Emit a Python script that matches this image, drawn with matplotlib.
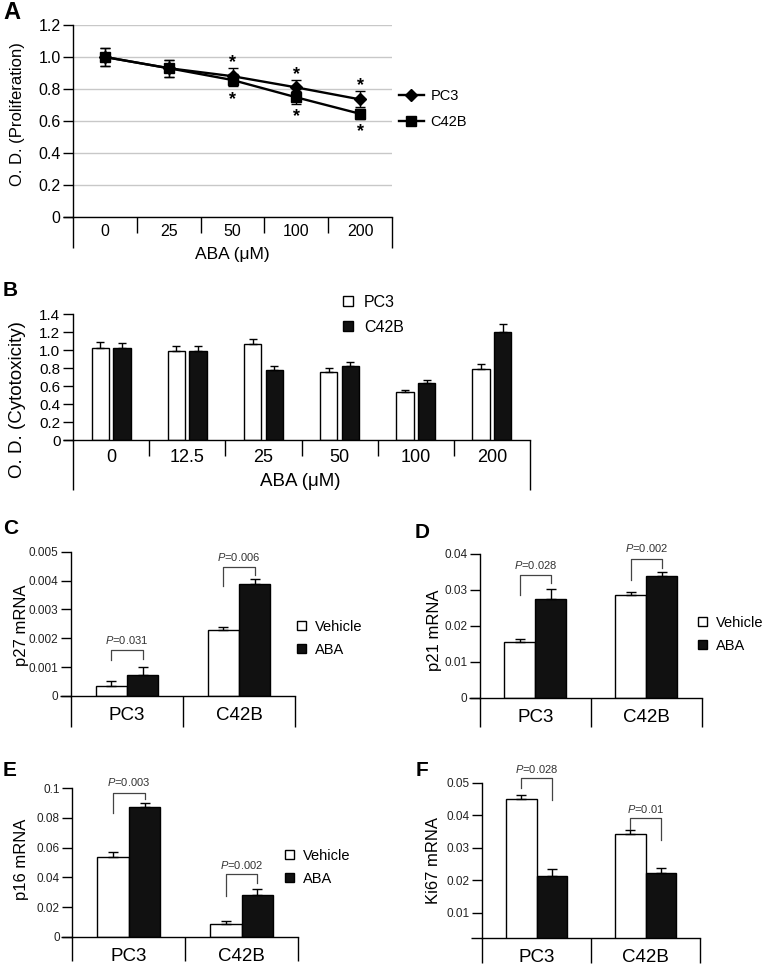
import matplotlib
matplotlib.use('Agg')
import matplotlib.pyplot as plt
from matplotlib.patches import Patch
from matplotlib.lines import Line2D
import numpy as np

plt.rcParams['font.family'] = ['Liberation Sans', 'DejaVu Sans']
plt.rcParams['mathtext.fontset'] = 'custom'
plt.rcParams['mathtext.rm'] = 'Liberation Sans'
plt.rcParams['mathtext.it'] = 'Liberation Sans:italic'

# ---------------- data ----------------
a_doses = ['0', '25', '50', '100', '200']
a_pc3 = [1.00, 0.93, 0.88, 0.81, 0.735]
a_pc3_err = [0.055, 0.054, 0.05, 0.048, 0.05]
a_c42b = [1.00, 0.93, 0.856, 0.748, 0.645]
a_c42b_err = [0.055, 0.054, 0.04, 0.04, 0.032]
a_star_idx = [2, 3, 4]

b_doses = ['0', '12.5', '25', '50', '100', '200']
b_pc3 = [1.02, 0.99, 1.065, 0.76, 0.53, 0.795]
b_pc3_err = [0.065, 0.06, 0.06, 0.044, 0.033, 0.055]
b_c42b = [1.02, 0.99, 0.78, 0.825, 0.637, 1.20]
b_c42b_err = [0.06, 0.06, 0.045, 0.044, 0.033, 0.09]

cells = ['PC3', 'C42B']

c_vehicle = [0.00034, 0.00228]
c_vehicle_err = [0.00019, 0.00012]
c_aba = [0.00074, 0.00387]
c_aba_err = [0.00025, 0.0002]
c_p = ['0.031', '0.006']
c_brackets = [(0.00159, 0.00125, 0.00128, 0.00193), (0.00446, 0.00382, 0.0042, 0.0048)]

d_vehicle = [0.0154, 0.0285]
d_vehicle_err = [0.0009, 0.0009]
d_aba = [0.0275, 0.0339]
d_aba_err = [0.0027, 0.001]
d_p = ['0.028', '0.002']
d_brackets = [(0.0341, 0.0285, 0.032, 0.0369), (0.0387, 0.0329, 0.0362, 0.0418)]

e_vehicle = [0.054, 0.0084]
e_vehicle_err = [0.0028, 0.0024]
e_aba = [0.0877, 0.0283]
e_aba_err = [0.0023, 0.0036]
e_p = ['0.003', '0.002']
e_brackets = [(0.097, 0.0836, 0.0926, 0.104), (0.0423, 0.0274, 0.036, 0.0483)]

f_vehicle = [0.045, 0.0341]
f_vehicle_err = [0.0012, 0.0014]
f_aba = [0.0213, 0.0222]
f_aba_err = [0.0022, 0.0014]
f_p = ['0.028', '0.01']
f_brackets = [(0.0515, 0.0483, 0.0447, 0.0542), (0.0392, 0.0356, 0.0323, 0.0419)]

# ---------------- figure ----------------
W, H = 762, 967
fig = plt.figure(figsize=(W / 100, H / 100), dpi=100)
DARK = '#111111'


def box(x0, y0, x1, y1):
    return [x0 / W, 1 - y1 / H, (x1 - x0) / W, (y1 - y0) / H]


def fx(px):
    return px / W


def fy(py):
    return 1 - py / H


def frame(ax, n, bottom_px, sep_px, left_ext_px=10):
    bb = ax.get_position()
    hpx = bb.height * H
    wpx = bb.width * W
    d = bottom_px / hpx
    s = sep_px / hpx
    kw = dict(transform=ax.transAxes, clip_on=False, color='black', lw=1.0,
              solid_capstyle='butt')
    ax.plot([0, 0], [0, -d], **kw)
    ax.plot([1, 1], [0, -d], **kw)
    ax.plot([-left_ext_px / wpx, 0], [0, 0], **kw)
    for i in range(1, n):
        ax.plot([i / n, i / n], [0, -s], **kw)


def style(ax):
    for sp in ['top', 'right']:
        ax.spines[sp].set_visible(False)
    for sp in ['left', 'bottom']:
        ax.spines[sp].set_linewidth(1.0)


# ---------------- Panel A ----------------
axA = fig.add_axes(box(73, 25, 392, 217))
style(axA)
xa = np.arange(len(a_doses))
axA.yaxis.grid(True, color='#c8c8c8', lw=1)
axA.set_axisbelow(True)
axA.errorbar(xa, a_pc3, yerr=a_pc3_err, color='black', marker='D', ms=6.5, lw=1.7,
             capsize=3.5, elinewidth=1, capthick=1, label='PC3', zorder=3)
axA.errorbar(xa, a_c42b, yerr=a_c42b_err, color='black', marker='s', ms=6.5, lw=1.7,
             capsize=3.5, elinewidth=1, capthick=1, label='C42B', zorder=3)
for i in a_star_idx:
    axA.text(i, a_pc3[i] + a_pc3_err[i] + 0.035, '*', ha='center', va='center',
             fontsize=13, fontweight='bold')
    axA.text(i, a_c42b[i] - a_c42b_err[i] - 0.08, '*', ha='center', va='center',
             fontsize=13, fontweight='bold')
axA.set_xlim(-0.5, len(a_doses) - 0.5)
axA.set_ylim(0, 1.2)
axA.set_yticks(np.arange(0, 1.21, 0.2))
axA.set_yticklabels(['0', '0.2', '0.4', '0.6', '0.8', '1.0', '1.2'])
axA.set_xticks(xa)
axA.set_xticklabels(a_doses)
axA.tick_params(axis='y', length=7, width=1, pad=2, labelsize=11.5)
axA.tick_params(axis='x', length=0, pad=5, labelsize=11.5)
axA.set_xlabel('ABA (μM)', fontsize=12.5)
axA.xaxis.set_label_coords(fx(232), fy(255), transform=fig.transFigure)
axA.xaxis.label.set_va('center')
axA.set_ylabel('O. D. (Proliferation)', fontsize=12, va='center')
axA.yaxis.set_label_coords(fx(18), fy(114), transform=fig.transFigure)
frame(axA, len(a_doses), 31, 16)
hA = [Line2D([], [], color='black', marker='D', ms=6.5, lw=1.7),
      Line2D([], [], color='black', marker='s', ms=6.5, lw=1.7)]
axA.legend(hA, ['PC3', 'C42B'], loc='upper left', bbox_to_anchor=(fx(399), fy(89)),
           bbox_transform=fig.transFigure, frameon=False, fontsize=10.5,
           handlelength=1.7, handletextpad=0.45, labelspacing=0.85,
           borderpad=0, borderaxespad=0)
fig.text(fx(3), fy(1), 'A', fontsize=17, fontweight='bold', ha='left', va='top')

# ---------------- Panel B ----------------
axB = fig.add_axes(box(73, 314, 530, 440.3))
style(axB)
xb = np.arange(len(b_doses))
bw = 0.228
off = 0.142
ekw = dict(ecolor='black', elinewidth=1, capsize=3.2, capthick=1)
axB.bar(xb - off, b_pc3, bw, color='white', edgecolor='black', lw=1.0,
        yerr=[np.zeros(len(b_pc3)), b_pc3_err], error_kw=ekw, label='PC3')
axB.bar(xb + off, b_c42b, bw, color=DARK, edgecolor='black', lw=1.0,
        yerr=[np.zeros(len(b_c42b)), b_c42b_err], error_kw=ekw, label='C42B')
axB.set_xlim(-0.5, len(b_doses) - 0.5)
axB.set_ylim(0, 1.4)
axB.set_yticks(np.arange(0, 1.41, 0.2))
axB.set_yticklabels(['0', '0.2', '0.4', '0.6', '0.8', '1.0', '1.2', '1.4'])
axB.set_xticks(xb)
axB.set_xticklabels(b_doses)
axB.tick_params(axis='y', length=7, width=1, pad=2, labelsize=11)
axB.tick_params(axis='x', length=0, pad=6, labelsize=13)
axB.set_xlabel('ABA (μM)', fontsize=13.5)
axB.xaxis.set_label_coords(fx(300), fy(482), transform=fig.transFigure)
axB.xaxis.label.set_va('center')
axB.set_ylabel('O. D. (Cytotoxicity)', fontsize=13.5, va='center')
axB.yaxis.set_label_coords(fx(18), fy(400), transform=fig.transFigure)
frame(axB, len(b_doses), 50, 16)
hB = [Patch(facecolor='white', edgecolor='black', lw=1.0),
      Patch(facecolor=DARK, edgecolor='black', lw=1.0)]
axB.legend(hB, ['PC3', 'C42B'], loc='upper left', bbox_to_anchor=(fx(343), fy(295)),
           bbox_transform=fig.transFigure, frameon=False, fontsize=11.5,
           handlelength=0.6, handleheight=0.6, handletextpad=0.7, labelspacing=0.6,
           borderpad=0, borderaxespad=0)
fig.text(fx(3), fy(290), 'B', fontsize=15, fontweight='bold', ha='left', va='center')


# ---------------- Panels C-F ----------------
def mrna_panel(rect, ylim, yticks, yticklabels, ylabel, ylabel_xy, veh, veh_err,
               aba, aba_err, pvals, brackets, legend_xy, label, label_xy, bottom_px):
    ax = fig.add_axes(box(*rect))
    style(ax)
    x = np.arange(len(cells))
    w = 0.28
    o = 0.14
    ek = dict(ecolor='black', elinewidth=1, capsize=3.5, capthick=1)
    ax.bar(x - o, veh, w, color='white', edgecolor='black', lw=1.0,
           yerr=[np.zeros(len(veh)), veh_err], error_kw=ek, label='Vehicle')
    ax.bar(x + o, aba, w, color=DARK, edgecolor='black', lw=1.0,
           yerr=[np.zeros(len(aba)), aba_err], error_kw=ek, label='ABA')
    ax.set_xlim(-0.5, len(cells) - 0.5)
    ax.set_ylim(*ylim)
    ax.set_yticks(yticks)
    ax.set_yticklabels(yticklabels)
    ax.set_xticks(x)
    ax.set_xticklabels(cells)
    ax.tick_params(axis='y', length=7, width=1, pad=2, labelsize=8.5, labelcolor='#222222')
    ax.tick_params(axis='x', length=0, pad=8, labelsize=13.5)
    ax.set_ylabel(ylabel, fontsize=12, va='center')
    ax.yaxis.set_label_coords(fx(ylabel_xy[0]), fy(ylabel_xy[1]), transform=fig.transFigure)
    for i, (top, lb, rb, ty) in enumerate(brackets):
        ax.plot([i - o, i - o, i + o, i + o], [lb, top, top, rb], color='#444444',
                lw=0.9, clip_on=False)
        ax.text(i, ty, r'$\it{P}$=' + pvals[i], ha='center', va='center',
                fontsize=8, color='#333333', clip_on=False)
    frame(ax, len(cells), bottom_px, bottom_px, left_ext_px=11)
    if legend_xy is not None:
        hh = [Patch(facecolor='white', edgecolor='black', lw=1.0),
              Patch(facecolor=DARK, edgecolor='black', lw=1.0)]
        ax.legend(hh, ['Vehicle', 'ABA'], loc='upper left',
                  bbox_to_anchor=(fx(legend_xy[0]), fy(legend_xy[1])),
                  bbox_transform=fig.transFigure, frameon=False, fontsize=10.5,
                  handlelength=0.6, handleheight=0.6, handletextpad=0.6,
                  labelspacing=0.6, borderpad=0, borderaxespad=0)
    fig.text(fx(label_xy[0]), fy(label_xy[1]), label, fontsize=15, fontweight='bold',
             ha='left', va='center')
    return ax


mrna_panel((71, 551.7, 295, 696), (0, 0.005), np.arange(0, 0.00501, 0.001),
           ['0', '0.001', '0.002', '0.003', '0.004', '0.005'], 'p27 mRNA', (22, 625),
           c_vehicle, c_vehicle_err, c_aba, c_aba_err, c_p, c_brackets,
           (297, 620), 'C', (3, 528), 31)

mrna_panel((480, 554, 701.7, 697.7), (0, 0.04), np.arange(0, 0.0401, 0.01),
           ['0', '0.01', '0.02', '0.03', '0.04'], 'p21 mRNA', (435, 630),
           d_vehicle, d_vehicle_err, d_aba, d_aba_err, d_p, d_brackets,
           (698, 616), 'D', (415, 532), 29)

mrna_panel((72.3, 788.3, 298, 936.7), (0, 0.1), np.arange(0, 0.1001, 0.02),
           ['0', '0.02', '0.04', '0.06', '0.08', '0.1'], 'p16 mRNA', (21.5, 859),
           e_vehicle, e_vehicle_err, e_aba, e_aba_err, e_p, e_brackets,
           (285, 849), 'E', (3, 770), 24)

mrna_panel((482.3, 782.7, 700, 937.7), (0.0023, 0.05), np.arange(0.01, 0.0501, 0.01),
           ['0.01', '0.02', '0.03', '0.04', '0.05'], 'Ki67 mRNA', (434, 860),
           f_vehicle, f_vehicle_err, f_aba, f_aba_err, f_p, f_brackets,
           None, 'F', (416, 770), 25)

fig.savefig('out.png', dpi=100)
